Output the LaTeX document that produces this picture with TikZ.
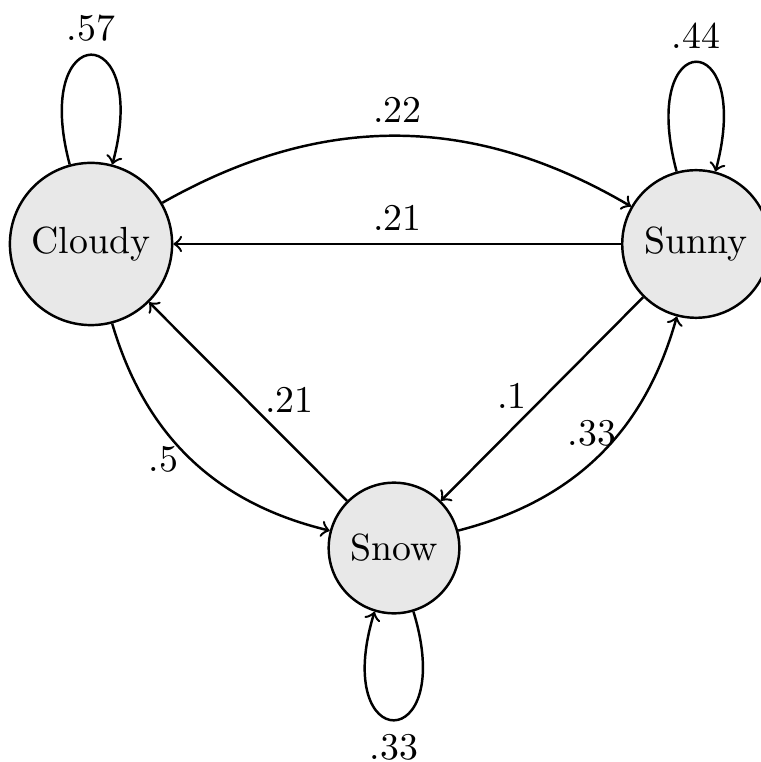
\documentclass[tikz,border=0pt]{standalone}
\begin{document}
\begin{tikzpicture}[x=0.2646pt,y=-0.2646pt,
  state/.style={circle,draw,fill=black!9,inner sep=4pt,line width=0.65pt},
  link/.style={->,line width=0.65pt},
  selfloop/.style={loop,min distance=40pt,looseness=1},
  lbl/.style={inner sep=0.5pt}]
\useasboundingbox (0,0) rectangle (760,762);
\node[state] (C) at (91,244) {Cloudy};
\node[state] (S) at (696,244) {Sunny};
\node[state] (W) at (394,548) {Snow};
% loops
\draw[link] (C) to[out=105,in=75,selfloop] node[above] {.57} (C);
\draw[link] (S) to[out=105,in=75,selfloop] node[above] {.44} (S);
\draw[link] (W) to[out=-73,in=-107,selfloop] node[below] {.33} (W);
% edges
\draw[link] (C) to[bend left=30] node[above] {.22} (S);
\draw[link] (S) -- node[above] {.21} (C);
\draw[link] (S) -- node[lbl,pos=0.56,anchor=south east] {.1} (W);
\draw[link] (W) -- node[lbl,pos=0.43,anchor=south west] {.21} (C);
\draw[link] (C) to[bend right=30] node[lbl,pos=0.5,anchor=east,inner sep=3pt] {.5} (W);
\draw[link] (W) to[bend right=30] node[lbl,pos=0.6,anchor=east] {.33} (S);
\end{tikzpicture}
\end{document}
